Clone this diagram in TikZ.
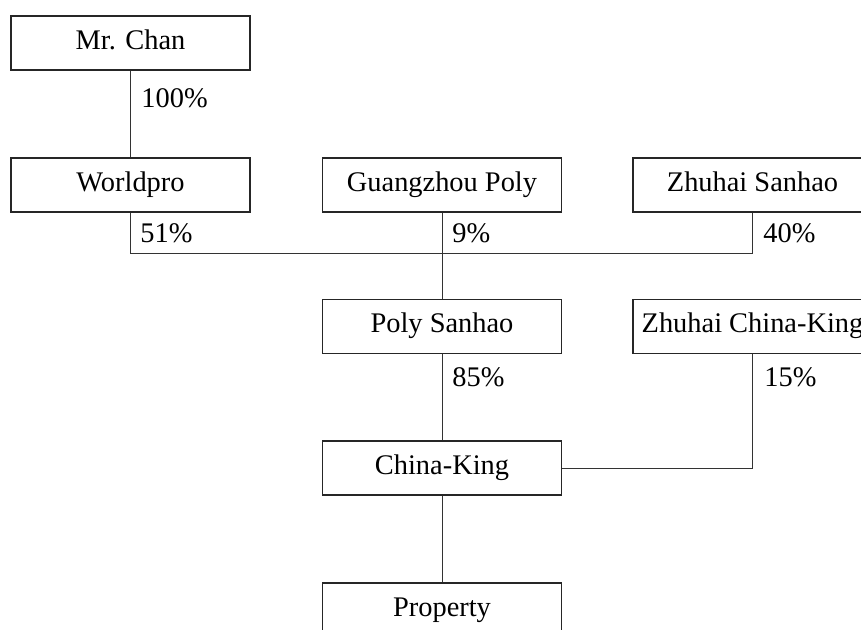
\documentclass[tikz,border=0pt]{standalone}
\usepackage{fontspec}
\setmainfont{Liberation Serif}
\begin{document}
\begin{tikzpicture}[x=0.5pt,y=-0.5pt,
  box/.style={draw=black!85,line width=0.65pt,minimum width=119.5pt,minimum height=27pt,inner sep=0pt,text height=0.84em,text depth=0.2em,font=\fontsize{14.2}{16}\selectfont},
  pct/.style={anchor=west,inner sep=0pt,font=\fontsize{14.2}{16}\selectfont},
  link/.style={draw=black!80,line width=0.5pt}]
\useasboundingbox (0,0) rectangle (861,630);
\clip (0,0) rectangle (861,630);
\node[box] (mr) at (130.5,43) {Mr. Chan};
\node[box] (wp) at (130.5,185) {Worldpro};
\node[box] (gp) at (442,185) {Guangzhou Poly};
\node[box] (zs) at (752.5,185) {Zhuhai Sanhao};
\node[box] (ps) at (442,326.5) {Poly Sanhao};
\node[box] (zck) at (752.5,326.5) {Zhuhai China-King};
\node[box] (ck) at (442,468) {China-King};
\node[box] (pr) at (442,610) {Property};
\coordinate (j) at (442,254);
\draw[link] (mr.south) -- (wp.north);
\draw[link] (wp.south) |- (j);
\draw[link] (zs.south) |- (j);
\draw[link] (gp.south) -- (ps.north);
\draw[link] (ps.south) -- (ck.north);
\draw[link] (ck.east) -| (zck.south);
\draw[link] (ck.south) -- (pr.north);
\node[pct] (l1) at (141,98) {100\%};
\node[pct] (l2) at (140,233) {51\%};
\node[pct] (l3) at (452,233) {9\%};
\node[pct] (l4) at (763,233) {40\%};
\node[pct] (l5) at (452,377) {85\%};
\node[pct] (l6) at (764,377) {15\%};
\end{tikzpicture}
\end{document}
